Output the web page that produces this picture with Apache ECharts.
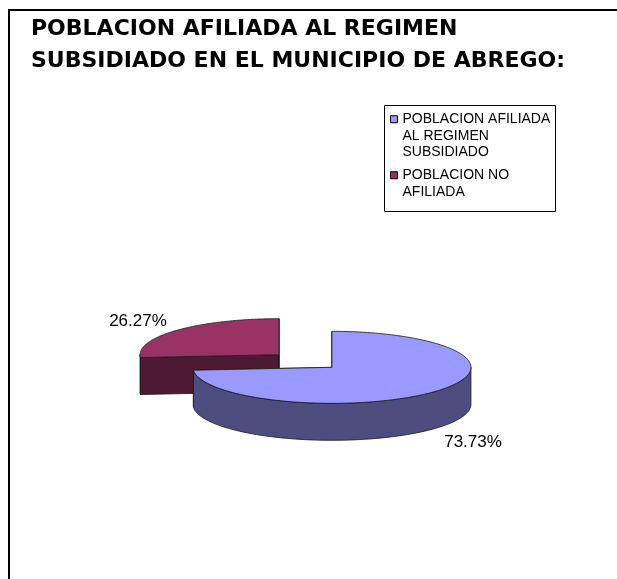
<!DOCTYPE html>
<html><head><meta charset="utf-8">
<script src="https://cdn.jsdelivr.net/npm/echarts@6/dist/echarts.min.js"></script>
<style>html,body{margin:0;padding:0;background:#fff}#c{width:617px;height:579px}</style>
</head><body><div id="c"></div>
<script>
// ---- data ----
const categories = ['POBLACION AFILIADA AL REGIMEN SUBSIDIADO', 'POBLACION NO AFILIADA'];
const values = [73.73, 26.27];
const legendLines = [['POBLACION AFILIADA', 'AL REGIMEN', 'SUBSIDIADO'], ['POBLACION NO', 'AFILIADA']];

// ---- styles ----
const topColors = ['#9999FF', '#993366'];
const sideColors = ['#4D4D80', '#4D1933'];

// ---- geometry of the tilted pie ----
const CX = 305.5, CY = 361, RX = 139, RY = 36, DEPTH = 37, EXPLODE = 36, LABEL_R = 192;
const total = values.reduce((a, b) => a + b, 0);
const starts = [];
let acc = 0;
values.forEach(v => { starts.push(acc); acc += v; });
const toRad = v => v / total * Math.PI * 2;

function makeRender(k) {
  return function (params, api) {
    const v = api.value(0);
    const a0 = toRad(starts[k]);
    const a1 = a0 + toRad(v);
    const mid = (a0 + a1) / 2;
    const cx = CX + EXPLODE * Math.sin(mid);
    const cy = CY - EXPLODE * (RY / RX) * Math.cos(mid);
    const P = (a, dz) => [cx + RX * Math.sin(a), cy - RY * Math.cos(a) + (dz || 0)];
    const stroke = { stroke: '#1a1a1a', lineWidth: 0.8, lineJoin: 'round' };
    const children = [];
    // cut faces
    [a0, a1].forEach(a => {
      children.push({ type: 'polygon', shape: { points: [[cx, cy], P(a), P(a, DEPTH), [cx, cy + DEPTH]] },
        style: Object.assign({ fill: sideColors[k] }, stroke) });
    });
    // outer wall (front half only)
    const s = Math.max(a0, Math.PI / 2), e = Math.min(a1, Math.PI * 1.5);
    if (e > s) {
      const n = 80, top = [], bot = [];
      for (let i = 0; i <= n; i++) { const a = s + (e - s) * i / n; top.push(P(a)); bot.push(P(a, DEPTH)); }
      children.push({ type: 'polygon', shape: { points: top.concat(bot.reverse()) },
        style: Object.assign({ fill: sideColors[k] }, stroke) });
    }
    // top face
    const pts = [[cx, cy]];
    const n2 = 160;
    for (let i = 0; i <= n2; i++) pts.push(P(a0 + (a1 - a0) * i / n2));
    children.push({ type: 'polygon', shape: { points: pts }, style: Object.assign({ fill: topColors[k] }, stroke) });
    // label
    const front = Math.cos(mid) < 0;
    children.push({ type: 'text', style: {
      text: v.toFixed(2) + '%',
      x: cx + LABEL_R * Math.sin(mid),
      y: cy - LABEL_R * (RY / RX) * Math.cos(mid) + (front ? DEPTH + 4 : 0),
      align: 'center', verticalAlign: 'middle',
      fontFamily: 'Liberation Sans', fontSize: 17, fill: '#000' } });
    return { type: 'group', children };
  };
}

const series = categories.map((name, k) => {
  const mid = toRad(starts[k] + values[k] / 2);
  return {
    type: 'custom', name, coordinateSystem: 'none',
    z: Math.cos(mid) < 0 ? 3 : 2,
    itemStyle: { color: topColors[k] },
    data: [values[k]],
    renderItem: makeRender(k)
  };
});

const chart = echarts.init(document.getElementById('c'), null, { renderer: 'canvas' });
chart.setOption({
  animation: false,
  backgroundColor: '#fff',
  title: {
    text: 'POBLACION AFILIADA AL REGIMEN\nSUBSIDIADO EN EL MUNICIPIO DE ABREGO:',
    left: 31, top: 13, padding: 0,
    textStyle: { fontFamily: 'DejaVu Sans', fontWeight: 'bold', fontSize: 22, lineHeight: 32.5, color: '#000' }
  },
  legend: {
    orient: 'vertical', left: 390, top: 78, padding: 0, itemGap: -10,
    itemWidth: 7, itemHeight: 7, icon: 'rect', selectedMode: false,
    itemStyle: { borderColor: '#000', borderWidth: 1 },
    data: categories,
    formatter: function (name) {
      const lines = legendLines[categories.indexOf(name)];
      return '\n'.repeat(lines.length - 1) + lines.join('\n');
    },
    textStyle: { fontFamily: 'Liberation Sans', fontSize: 14, lineHeight: 16.5, color: '#000' }
  },
  graphic: [
    { type: 'rect', shape: { x: 9, y: 10, width: 700, height: 700 }, style: { fill: 'none', stroke: '#000', lineWidth: 2 }, silent: true },
    { type: 'rect', shape: { x: 384.5, y: 105.5, width: 171, height: 106 }, style: { fill: 'none', stroke: '#000', lineWidth: 1 }, silent: true }
  ],
  series
});
</script></body></html>
